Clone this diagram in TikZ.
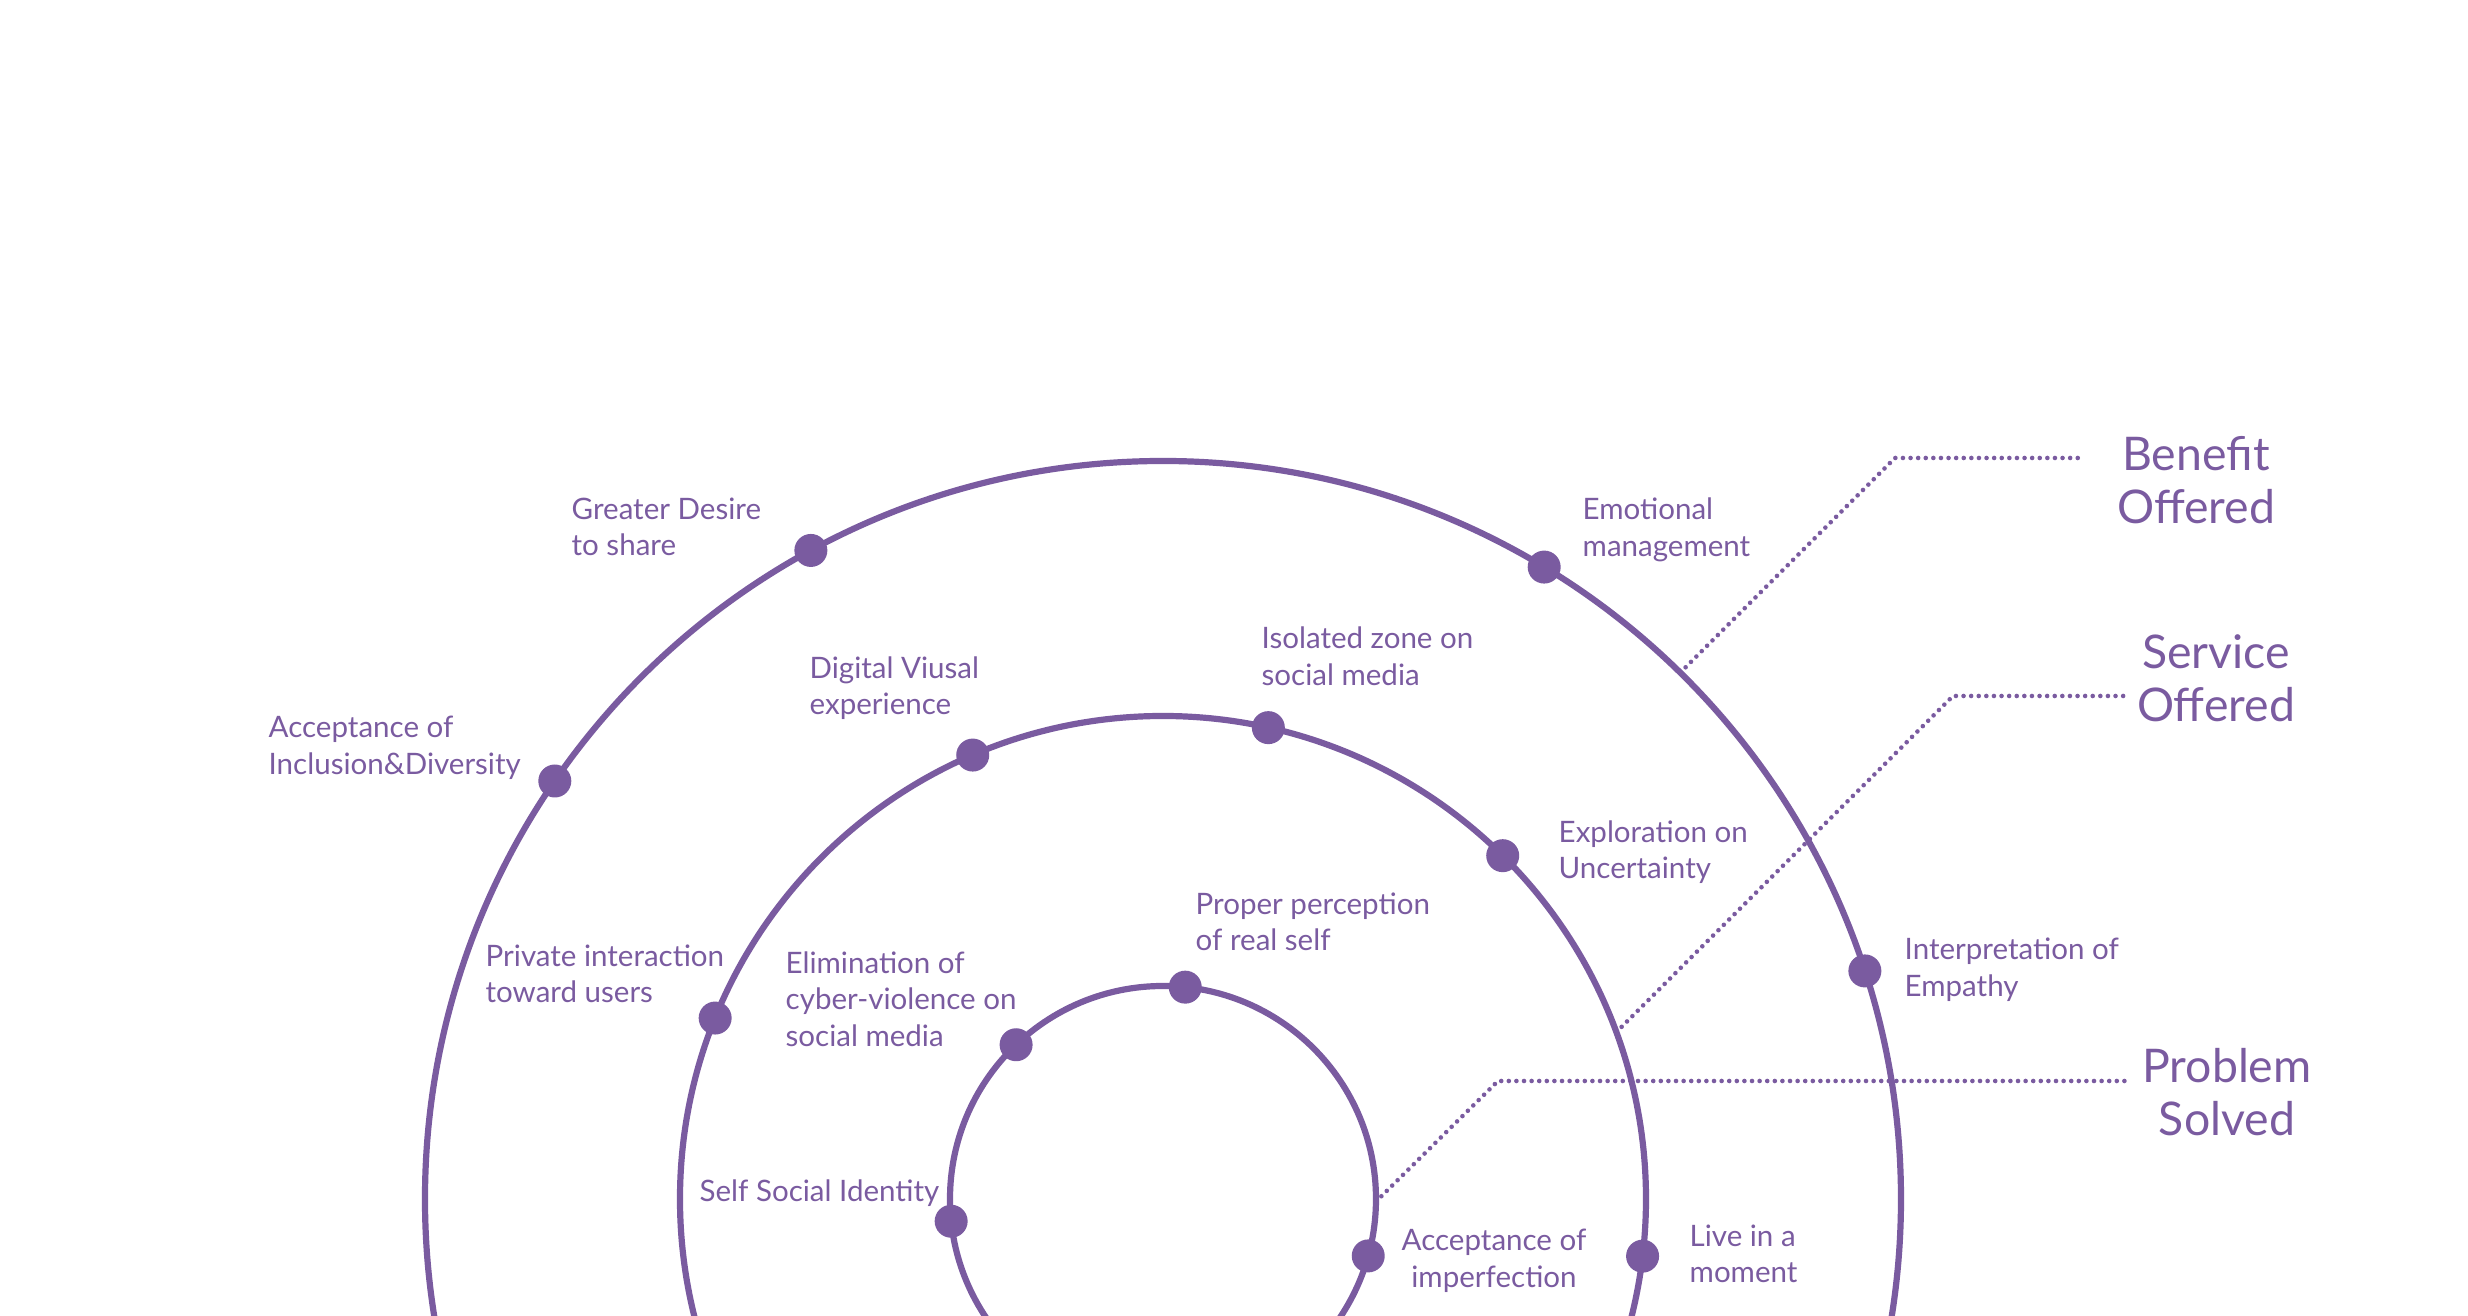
\documentclass[tikz,border=0pt]{standalone}
\usepackage{fontspec}
\setmainfont{Lato}
\usepackage{xcolor}
\usetikzlibrary{positioning, calc}
\definecolor{lavender}{RGB}{122,91,160}

\begin{document}
\begin{tikzpicture}[x=0.1mm, y=0.1mm,
    ring/.style={draw=lavender, line width=0.62mm},
    dot/.style={circle, fill=lavender, inner sep=0pt, minimum size=3.3mm},
    lbl/.style={text=lavender, align=left, inner sep=0pt, anchor=west,
      font=\fontsize{8.4}{10.4}\selectfont},
    title/.style={text=lavender, align=center, inner sep=0pt,
      font=\fontsize{13.2}{15.2}\selectfont},
    guide/.style={draw=lavender, line width=0.46mm, line cap=round,
      dash pattern=on 0pt off 0.76mm}
]
\useasboundingbox (-1163,-117) rectangle (1305,1199);
\clip (-1163,-117) rectangle (1305,1199);
\coordinate (c) at (0,0);
\draw[ring] (c) circle (738);
\draw[ring] (c) circle (483);
\draw[ring] (c) circle (213);

% outer ring
\node[dot] (desire)    at (118.5:738) {};
\node[dot] (inclusion) at (145.5:738) {};
\node[dot] (emotion)   at (58.9:738) {};
\node[dot] (empathy)   at (18:738) {};
% middle ring
\node[dot] (digital)   at (113.2:483) {};
\node[dot] (isolated)  at (77.4:483) {};
\node[dot] (explore)   at (45.3:483) {};
\node[dot] (private)   at (158:483) {};
\node[dot] (moment)    at (-6.8:483) {};
% inner ring
\node[dot] (proper)    at (84:213) {};
\node[dot] (cyber)     at (133.6:213) {};
\node[dot] (identity)  at (186:213) {};
\node[dot] (imperfect) at (-15.5:213) {};

\node[lbl] (desiretxt)    at (-592,672)   {Greater Desire\\to share};
\node[lbl] (inclusiontxt) at (-895,451)   {Acceptance of\\Inclusion\&Diversity};
\node[lbl] (emotiontxt)   at (419,669)    {Emotional\\management};
\node[lbl] (empathytxt)   at (741,229)    {Interpretation of\\Empathy};
\node[lbl] (digitaltxt)   at (-354,511)   {Digital Viusal\\experience};
\node[lbl] (isolatedtxt)  at (98,543)     {Isolated zone on\\social media};
\node[lbl] (exploretxt)   at (395,347)    {Exploration on\\Uncertainty};
\node[lbl] (privatetxt)   at (-678,225)   {Private interaction\\toward users};
\node[lbl] (cybertxt)     at (-378,200)   {Elimination of\\cyber-violence on\\social media};
\node[lbl] (propertxt)    at (32,277)     {Proper perception\\of real self};
\node[lbl] (identitytxt)  at (-464,6)     {Self Social Identity};
\node[lbl, anchor=center, align=center] (imperfecttxt) at (331,-62) {Acceptance of\\imperfection};
\node[lbl] (momenttxt)    at (526,-55)    {Live in a\\moment};

\node[title] (benefit) at (1033,719) {Benefit\\Offered};
\node[title] (service) at (1053,521) {Service\\Offered};
\node[title] (problem) at (1064,107) {Problem\\Solved};

% leader lines
\coordinate (b0) at (45.5:738);
\coordinate (b1) at (732,741);
\coordinate (b2) at (918,741);
\coordinate (s0) at (20.2:483);
\coordinate (s1) at (790,503);
\coordinate (s2) at (964,503);
\coordinate (p0) at (-0.7:213);
\coordinate (p1) at (335,118);
\coordinate (p2) at (967,118);
\draw[guide] (b0) -- (b1) -- (b2);
\draw[guide] (s0) -- (s1) -- (s2);
\draw[guide] (p0) -- (p1) -- (p2);
\end{tikzpicture}
\end{document}
